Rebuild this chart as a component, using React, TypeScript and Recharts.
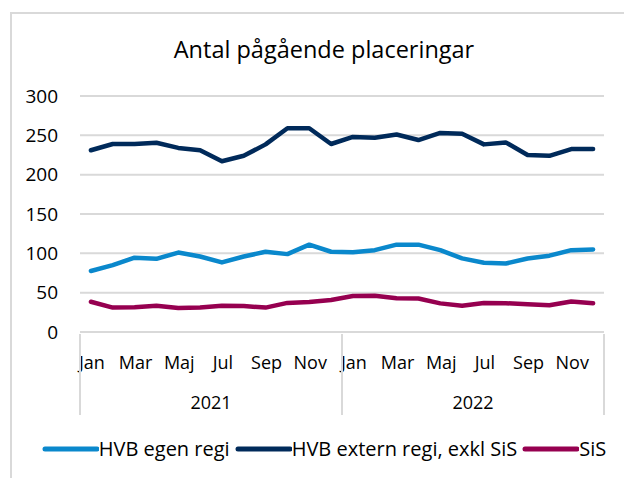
import React from 'react';
import { LineChart, Line, XAxis, YAxis, CartesianGrid, Legend } from 'recharts';

const months = ['Jan', 'Feb', 'Mar', 'Apr', 'Maj', 'Jun', 'Jul', 'Aug', 'Sep', 'Okt', 'Nov', 'Dec'];
const years = ['2021', '2022'];
const hvbEgen = [77.5, 85, 94.5, 93, 101, 96, 88.5, 96, 102, 99, 111, 102, 101.5, 104, 111, 111, 104, 93.6, 88, 87, 93.5, 97, 104, 105];
const hvbExtern = [231, 239, 239, 240.5, 234, 231, 217, 224, 238.5, 259, 259, 239, 248, 247, 251, 244, 253, 252, 238.5, 241, 225, 224, 232.5, 232.5];
const sis = [38.5, 31, 31.5, 33.5, 30.5, 31, 33.5, 33, 31, 37, 38, 40.6, 45.7, 46, 42.8, 42.5, 36.4, 33.5, 37, 36.6, 35.4, 34, 38.8, 36.6];
const yTicks = [0, 50, 100, 150, 200, 250, 300];
const seriesNames = ['HVB egen regi', 'HVB extern regi, exkl SiS', 'SiS'];

const C_EGEN = '#0a88cc';
const C_EXT = '#002a5a';
const C_SIS = '#960050';
const GRID = '#d9d9d9';
const FONT = '"Open Sans", sans-serif';

const data = hvbEgen.map((v, i) => ({
  pos: i + 0.5,
  month: months[i % 12],
  year: years[Math.floor(i / 12)],
  egen: v,
  ext: hvbExtern[i],
  sis: sis[i],
}));

const n = data.length;
const monthTicks = data.filter((_, i) => i % 2 === 0).map((d) => d.pos);
const yearTicks: number[] = [];
for (let k = 0; k <= years.length * 2; k++) yearTicks.push((k * 12) / 2);

const MonthTick = (props: any) => {
  const { x, y, payload } = props;
  const idx = Math.floor(payload.value);
  return (
    <text x={x + 1} y={y + 28} textAnchor="middle" dominantBaseline="central" fontFamily={FONT} fontSize={18} fill="#000">
      {months[idx % 12]}
    </text>
  );
};

const YearTick = (props: any) => {
  const { x, y, payload } = props;
  const v = payload.value;
  if (v % 12 === 0) {
    return <line x1={x} x2={x} y1={y - 40} y2={y + 41} stroke={GRID} strokeWidth={2} />;
  }
  return (
    <text x={x} y={y + 28} textAnchor="middle" dominantBaseline="central" fontFamily={FONT} fontSize={18} fill="#000">
      {years[Math.floor(v / 12)]}
    </text>
  );
};

const LegendContent = (props: any) => {
  const { payload } = props;
  return (
    <div style={{ display: 'flex', justifyContent: 'center', alignItems: 'center', fontFamily: FONT, fontSize: 20, color: '#000', whiteSpace: 'nowrap', lineHeight: '24px', paddingLeft: 24 }}>
      {(payload || []).map((p: any, i: number) => (
        <span key={i} style={{ display: 'flex', alignItems: 'center', marginRight: i < payload.length - 1 ? 5 : 0 }}>
          <svg width={57} height={8} style={{ display: 'block' }}>
            <line x1={3} x2={55} y1={4} y2={4} stroke={p.color} strokeWidth={5} strokeLinecap="round" />
          </svg>
          <span>{p.value}</span>
        </span>
      ))}
    </div>
  );
};

export default function App() {
  return (
    <div style={{ position: 'absolute', left: 0, top: 0, width: 624, height: 478, overflow: 'hidden', background: '#fff' }}>
      <div style={{ position: 'absolute', left: 10, top: 12, width: 640, height: 500, border: `2px solid ${GRID}`, boxSizing: 'border-box' }} />
      <div style={{ position: 'absolute', left: 10, top: 32, width: 628, textAlign: 'center', fontFamily: FONT, fontSize: 23.5, lineHeight: '34px', color: '#000' }}>
        Antal pågående placeringar
      </div>
      <div style={{ position: 'absolute', left: 0, top: 0 }}>
        <LineChart width={624} height={478} data={data} margin={{ top: 96, right: 20, bottom: 61, left: 0 }}>
          <CartesianGrid vertical={false} stroke={GRID} strokeWidth={2} />
          <XAxis
            dataKey="pos"
            type="number"
            domain={[0, n]}
            ticks={monthTicks}
            interval={0}
            tick={<MonthTick />}
            tickLine={false}
            tickSize={0}
            axisLine={{ stroke: GRID, strokeWidth: 2 }}
            height={40}
            allowDataOverflow
          />
          <XAxis
            xAxisId="yr"
            dataKey="pos"
            type="number"
            domain={[0, n]}
            ticks={yearTicks}
            interval={0}
            tick={<YearTick />}
            tickLine={false}
            tickSize={0}
            axisLine={false}
            height={45}
            allowDataOverflow
          />
          <YAxis
            width={80}
            domain={[0, 300]}
            ticks={yTicks}
            interval={0}
            tickLine={false}
            tickSize={0}
            tickMargin={22}
            axisLine={false}
            tick={{ fontFamily: FONT, fontSize: 19, fill: '#000' }}
          />
          <Legend
            layout="horizontal"
            verticalAlign="middle"
            align="center"
            content={<LegendContent />}
            wrapperStyle={{ top: 437, left: 0, width: 624 }}
          />
          <Line name={seriesNames[0]} dataKey="egen" stroke={C_EGEN} strokeWidth={4.5} dot={false} isAnimationActive={false} strokeLinejoin="round" strokeLinecap="round" />
          <Line name={seriesNames[1]} dataKey="ext" stroke={C_EXT} strokeWidth={4.5} dot={false} isAnimationActive={false} strokeLinejoin="round" strokeLinecap="round" />
          <Line name={seriesNames[2]} dataKey="sis" stroke={C_SIS} strokeWidth={4.5} dot={false} isAnimationActive={false} strokeLinejoin="round" strokeLinecap="round" />
        </LineChart>
      </div>
    </div>
  );
}
